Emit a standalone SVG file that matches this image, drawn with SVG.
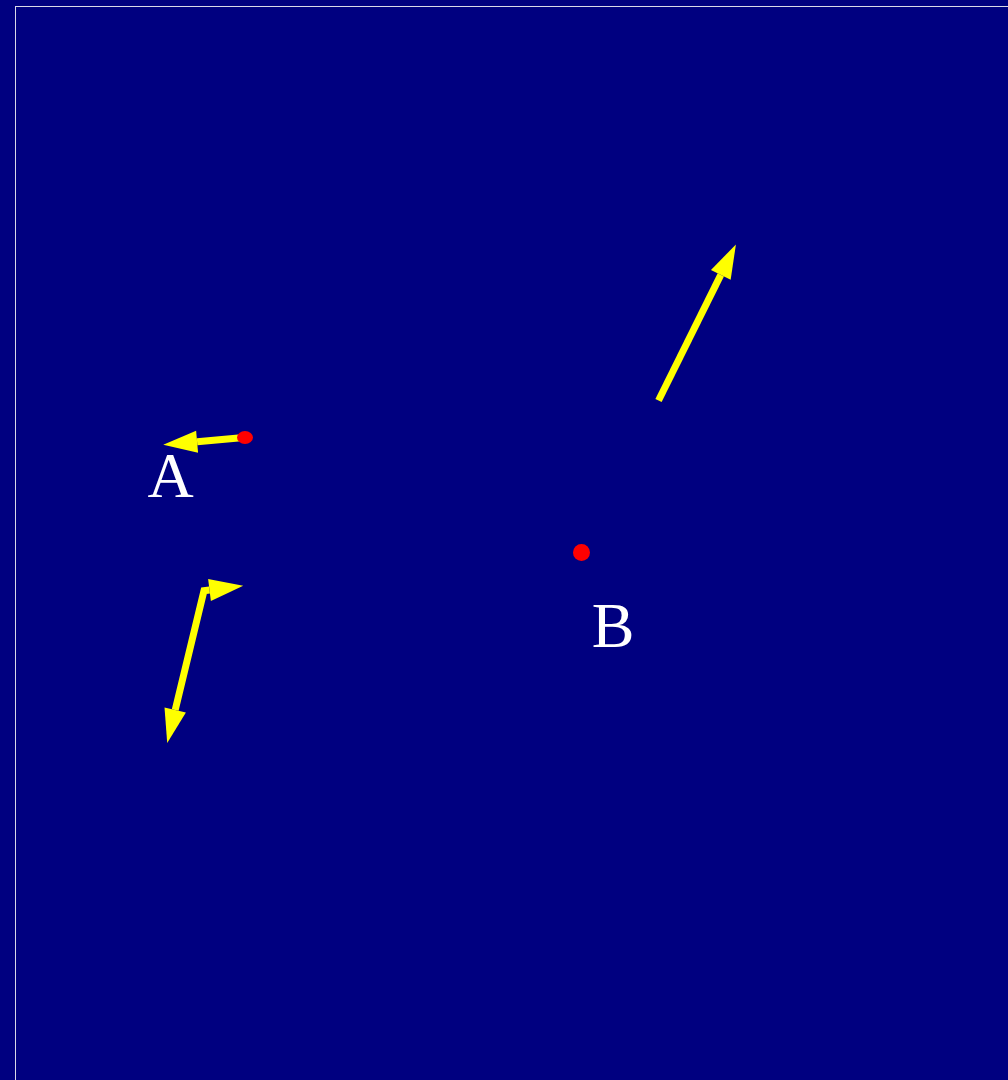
<svg xmlns="http://www.w3.org/2000/svg" width="1008" height="1080" viewBox="0 0 1008 1080">
  <style>
    .arrow { fill: none; stroke: #ffff00; stroke-width: 7; stroke-linejoin: miter; }
    .dot { fill: #ff0000; }
    .label { fill: #ffffff; font-family: "Liberation Serif", "Times New Roman", serif; font-size: 64px; text-anchor: middle; }
  </style>
  <defs>
    <marker id="head" markerUnits="userSpaceOnUse" markerWidth="40" markerHeight="30" viewBox="0 -15 40 30" refX="0" refY="0" orient="auto-start-reverse" overflow="visible">
      <path d="M0,-11 L34,0 L0,11 Z" fill="#ffff00"/>
    </marker>
  </defs>
  <rect x="0" y="0" width="1008" height="1080" fill="#000080"/>
  <rect x="15.5" y="6.5" width="1000" height="1100" fill="none" stroke="#d8d8e8" stroke-width="1"/>
  <g id="connectors">
    <line class="arrow" x1="244" y1="437.5" x2="197.1" y2="441.7" marker-end="url(#head)"/>
    <path class="arrow" d="M209.5,590 L204,590.7 L175.2,710" marker-start="url(#head)" marker-end="url(#head)"/>
    <line class="arrow" x1="658.5" y1="400.5" x2="720.8" y2="274.9" marker-end="url(#head)"/>
  </g>
  <g id="nodeA">
    <ellipse class="dot" cx="245" cy="437.5" rx="8" ry="6.5"/>
    <text class="label" x="170.5" y="497">A</text>
  </g>
  <g id="nodeB">
    <circle class="dot" cx="581.5" cy="552.5" r="8.5"/>
    <text class="label" x="613" y="647">B</text>
  </g>
</svg>
